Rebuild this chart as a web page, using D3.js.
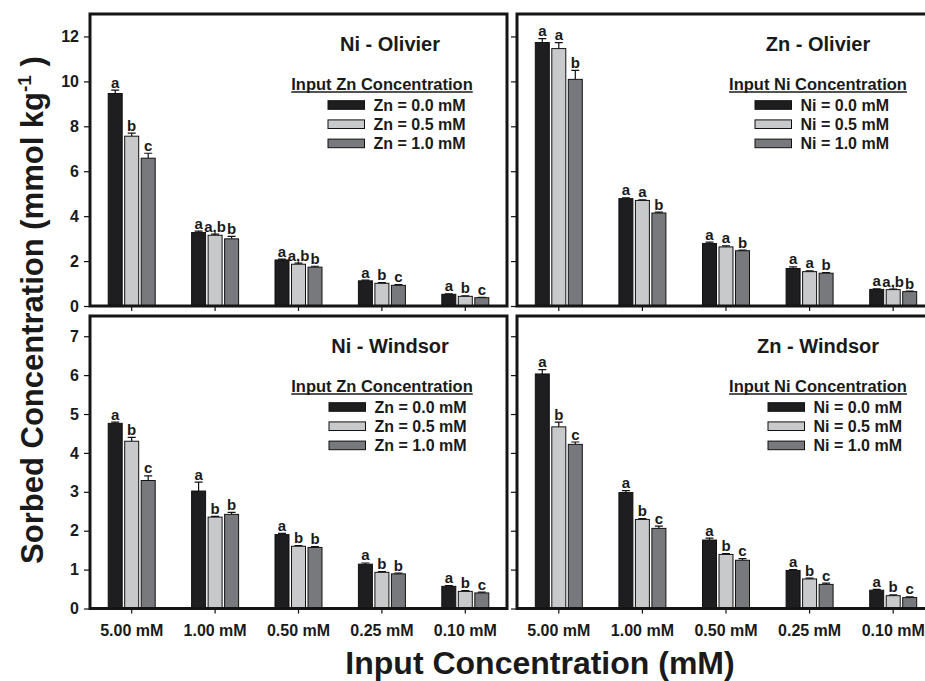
<!DOCTYPE html>
<html>
<head>
<meta charset="utf-8">
<script src="https://cdn.jsdelivr.net/npm/d3@7"></script>
<style>
  body { margin: 0; background: #fff; }
  svg { display: block; font-family: "Liberation Sans", Arial, sans-serif; font-weight: bold; }
</style>
</head>
<body>
<svg id="chart" width="925" height="681"></svg>
<script>
// categories on the x axis
const concentrations = ["5.00 mM", "1.00 mM", "0.50 mM", "0.25 mM", "0.10 mM"];

// legend labels
const znLegend = ["Zn = 0.0 mM", "Zn = 0.5 mM", "Zn = 1.0 mM"];
const niLegend = ["Ni = 0.0 mM", "Ni = 0.5 mM", "Ni = 1.0 mM"];

// y tick values
const ticksOlivier = [0, 2, 4, 6, 8, 10, 12];
const ticksWindsor = [0, 1, 2, 3, 4, 5, 6, 7];

// one row per series (0.0, 0.5, 1.0 mM), one value per input concentration
const niOlivierMeans = [[9.46, 3.27, 2.05, 1.12, 0.52], [7.56, 3.15, 1.86, 1.01, 0.43], [6.58, 2.99, 1.73, 0.92, 0.37]];
const niOlivierErrors = [[0.15, 0.06, 0.04, 0.03, 0.02], [0.14, 0.05, 0.05, 0.03, 0.02], [0.22, 0.11, 0.04, 0.03, 0.02]];
const niOlivierLetters = [["a", "a", "a", "a", "a"], ["b", "a,b", "a,b", "b", "b"], ["c", "b", "b", "c", "c"]];

const znOlivierMeans = [[11.73, 4.78, 2.78, 1.67, 0.74], [11.46, 4.70, 2.63, 1.53, 0.73], [10.09, 4.14, 2.46, 1.46, 0.64]];
const znOlivierErrors = [[0.17, 0.04, 0.06, 0.07, 0.02], [0.27, 0.03, 0.05, 0.03, 0.02], [0.40, 0.04, 0.03, 0.03, 0.02]];
const znOlivierLetters = [["a", "a", "a", "a", "a"], ["a", "a", "a", "a", "a,b"], ["b", "b", "b", "b", "b"]];

const niWindsorMeans = [[4.76, 3.02, 1.90, 1.14, 0.57], [4.30, 2.35, 1.60, 0.93, 0.44], [3.29, 2.42, 1.57, 0.89, 0.40]];
const niWindsorErrors = [[0.03, 0.23, 0.03, 0.03, 0.02], [0.10, 0.02, 0.02, 0.02, 0.02], [0.12, 0.05, 0.02, 0.02, 0.02]];
const niWindsorLetters = [["a", "a", "a", "a", "a"], ["b", "b", "b", "b", "b"], ["c", "b", "b", "b", "c"]];

const znWindsorMeans = [[6.03, 2.98, 1.76, 0.98, 0.47], [4.67, 2.29, 1.39, 0.76, 0.33], [4.22, 2.06, 1.24, 0.62, 0.28]];
const znWindsorErrors = [[0.11, 0.05, 0.05, 0.02, 0.02], [0.12, 0.02, 0.02, 0.02, 0.02], [0.06, 0.06, 0.04, 0.03, 0.02]];
const znWindsorLetters = [["a", "a", "a", "a", "a"], ["b", "b", "b", "b", "b"], ["c", "c", "c", "c", "c"]];

const fills = ["#1e1d1f", "#c8c9cb", "#78797d"];

const panels = [
  { title: "Ni - Olivier", legendTitle: "Input Zn Concentration", legend: znLegend,
    means: niOlivierMeans, errors: niOlivierErrors, letters: niOlivierLetters,
    x0: 90, x1: 507, y0: 14, y1: 306, yMax: 13, ticks: ticksOlivier, yLabels: true, xLabels: false,
    titleX: 390, legTitleX: 382, swatchX: 328 },
  { title: "Zn - Olivier", legendTitle: "Input Ni Concentration", legend: niLegend,
    means: znOlivierMeans, errors: znOlivierErrors, letters: znOlivierLetters,
    x0: 517, x1: 935, y0: 14, y1: 306, yMax: 13, ticks: ticksOlivier, yLabels: false, xLabels: false,
    titleX: 818, legTitleX: 818, swatchX: 755 },
  { title: "Ni - Windsor", legendTitle: "Input Zn Concentration", legend: znLegend,
    means: niWindsorMeans, errors: niWindsorErrors, letters: niWindsorLetters,
    x0: 90, x1: 507, y0: 316, y1: 608.5, yMax: 7.52, ticks: ticksWindsor, yLabels: true, xLabels: true,
    titleX: 390, legTitleX: 382, swatchX: 329 },
  { title: "Zn - Windsor", legendTitle: "Input Ni Concentration", legend: niLegend,
    means: znWindsorMeans, errors: znWindsorErrors, letters: znWindsorLetters,
    x0: 517, x1: 935, y0: 316, y1: 608.5, yMax: 7.52, ticks: ticksWindsor, yLabels: false, xLabels: true,
    titleX: 818, legTitleX: 818, swatchX: 768 }
];

const svg = d3.select("#chart");
svg.append("rect").attr("width", 925).attr("height", 681).attr("fill", "#fff");

const drawPanel = p => {
  const g = svg.append("g");
  const x = d3.scaleBand().domain(concentrations).range([p.x0, p.x1]);
  const xs = d3.scaleBand().domain([0, 1, 2]).range([-24.75, 24.75]).paddingInner(0.152).paddingOuter(0.076);
  const y = d3.scaleLinear().domain([0, p.yMax]).range([p.y1, p.y0]);

  const rows = [];
  p.means.forEach((row, s) => {
    row.forEach((v, i) => {
      rows.push({ s, cat: concentrations[i], v, e: p.errors[s][i], letter: p.letters[s][i] });
    });
  });
  const cx = d => x(d.cat) + x.bandwidth() / 2 + xs(d.s) + xs.bandwidth() / 2;

  // error bars (upper only)
  g.selectAll(".err").data(rows).enter().append("path")
    .attr("d", d => `M${cx(d)},${y(d.v)}V${y(d.v + d.e)}M${cx(d) - 4},${y(d.v + d.e)}H${cx(d) + 4}`)
    .attr("stroke", "#111").attr("stroke-width", 1.2).attr("fill", "none");

  g.selectAll(".bar").data(rows).enter().append("rect")
    .attr("x", d => x(d.cat) + x.bandwidth() / 2 + xs(d.s))
    .attr("width", xs.bandwidth())
    .attr("y", d => y(d.v))
    .attr("height", d => y(0) - y(d.v))
    .attr("fill", d => fills[d.s])
    .attr("stroke", "#111").attr("stroke-width", 1);

  g.selectAll(".letter").data(rows).enter().append("text")
    .attr("x", cx)
    .attr("y", d => y(d.v + d.e) - 2.5)
    .attr("text-anchor", "middle")
    .attr("font-size", 15)
    .attr("fill", "#1a1a1a")
    .text(d => d.letter);

  // axes
  const yAxis = g.append("g").attr("transform", `translate(${p.x0},0)`)
    .call(d3.axisLeft(y).tickValues(p.ticks).tickSize(6).tickPadding(5)
      .tickFormat(p.yLabels ? d3.format("d") : ""));
  yAxis.select(".domain").remove();
  yAxis.selectAll("line").attr("stroke", "#111").attr("stroke-width", 1.2);
  yAxis.selectAll("text").attr("font-size", 16).attr("fill", "#1a1a1a")
    .attr("font-family", "'Liberation Sans', Arial, sans-serif");

  const xAxis = g.append("g").attr("transform", `translate(0,${p.y1})`)
    .call(d3.axisBottom(x).tickSize(5).tickPadding(11)
      .tickFormat(p.xLabels ? d => d : ""));
  xAxis.select(".domain").remove();
  xAxis.selectAll("line").attr("stroke", "#111").attr("stroke-width", 1.2);
  xAxis.selectAll("text").attr("font-size", 16).attr("fill", "#1a1a1a")
    .attr("font-family", "'Liberation Sans', Arial, sans-serif");

  // frame
  g.append("rect")
    .attr("x", p.x0).attr("y", p.y0)
    .attr("width", p.x1 - p.x0).attr("height", p.y1 - p.y0)
    .attr("fill", "none").attr("stroke", "#151515").attr("stroke-width", 3);

  // title
  g.append("text")
    .attr("x", p.titleX).attr("y", p.y0 + 36.5)
    .attr("text-anchor", "middle").attr("font-size", 20).attr("fill", "#1a1a1a")
    .text(p.title);

  // legend
  const lt = g.append("text")
    .attr("x", p.legTitleX).attr("y", p.y0 + 76)
    .attr("text-anchor", "middle").attr("font-size", 16.5).attr("fill", "#1a1a1a")
    .text(p.legendTitle);
  const w = lt.node().getComputedTextLength();
  g.append("line")
    .attr("x1", p.legTitleX - w / 2).attr("x2", p.legTitleX + w / 2)
    .attr("y1", p.y0 + 78).attr("y2", p.y0 + 78)
    .attr("stroke", "#1a1a1a").attr("stroke-width", 1.4);

  const items = g.selectAll(".leg").data(p.legend).enter().append("g")
    .attr("transform", (d, i) => `translate(${p.swatchX},${p.y0 + 91 + i * 19.2})`);
  items.append("rect")
    .attr("x", 0).attr("y", -4.3).attr("width", 36.5).attr("height", 8.6)
    .attr("fill", (d, i) => fills[i]).attr("stroke", "#111").attr("stroke-width", 1);
  items.append("text")
    .attr("x", 45.5).attr("y", 5.7)
    .attr("font-size", 16).attr("fill", "#1a1a1a")
    .text(d => d);
};

panels.forEach(drawPanel);

// axis titles
svg.append("text")
  .attr("transform", "translate(43,310) rotate(-90)")
  .attr("text-anchor", "middle").attr("font-size", 31).attr("fill", "#1a1a1a")
  .call(t => {
    t.append("tspan").text("Sorbed Concentration (mmol kg");
    t.append("tspan").attr("dy", -12).attr("font-size", 19).text("-1");
    t.append("tspan").attr("dy", 12).text(" )");
  });

svg.append("text")
  .attr("x", 540).attr("y", 674)
  .attr("text-anchor", "middle").attr("font-size", 32).attr("fill", "#1a1a1a")
  .text("Input Concentration (mM)");
</script>
</body>
</html>
